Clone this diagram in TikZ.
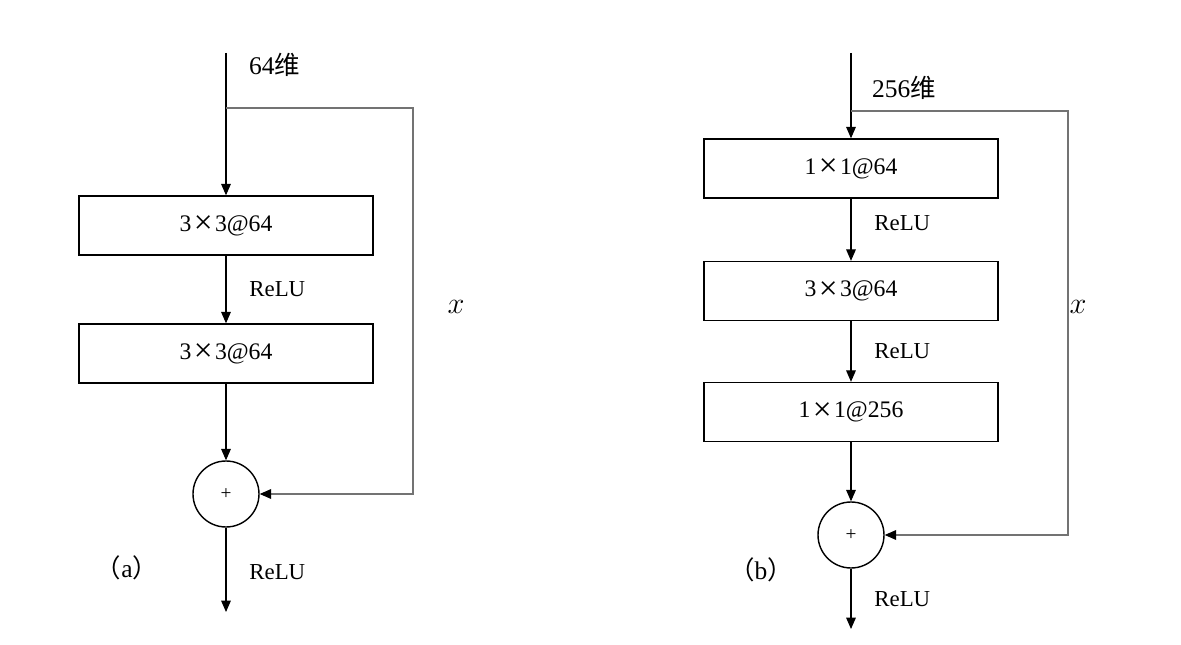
\documentclass[tikz,border=0pt]{standalone}
\usepackage{amsmath}
\usepackage{fontspec}
\setmainfont{Liberation Serif}
\newfontfamily\cjk{Noto Sans CJK SC}
\usetikzlibrary{positioning,arrows.meta}
\colorlet{skipgray}{black!55}
\newcommand{\bigtimes}{\hspace{0.1em}\raisebox{-1.6pt}{\fontsize{19}{19}\selectfont ×}\hspace{0.1em}}

\begin{document}
\begin{tikzpicture}[x=0.02cm, y=-0.02cm,
    block/.style = {draw, line width=0.8pt, minimum width=5.88cm, minimum height=1.18cm, inner sep=0pt, font=\fontsize{13.5}{15}\selectfont},
    sum/.style = {draw, circle, line width=0.8pt, minimum size=1.32cm, inner sep=0pt, font=\fontsize{11}{13}\selectfont},
    flow/.style = {-{Triangle[length=6.5pt, width=5.5pt]}, line width=0.6pt},
    skip/.style = {-{Triangle[length=6.5pt, width=5.5pt, color=black]}, line width=0.7pt, draw=skipgray},
    relu/.style = {anchor=west, xshift=0.34cm, font=\fontsize{13}{15}\selectfont},
    dim/.style = {anchor=west, font=\fontsize{14.5}{16}\selectfont},
    tag/.style = {font=\fontsize{14.5}{16}\selectfont},
    var/.style = {font=\fontsize{17}{17}\selectfont}]
    \useasboundingbox (0,0) rectangle (1181,645);

    % (a) two 3x3 layers
    \coordinate (inA) at (226,53);
    \coordinate (brA) at (226,108);
    \coordinate (skA) at (413,108);
    \coordinate (outA) at (226,612);
    \node[block] (a1) at (226,225.5) {3\bigtimes3@64};
    \node[block] (a2) at (226,353.5) {3\bigtimes3@64};
    \node[sum] (sa) at (226,494) {+};
    \node[dim] (dimA) at (243,65) {64{\cjk 维}};
    \node[var] (xa) at (456,307) {$x$};
    \node[tag] (capA) at (127,568) {{\cjk （}a{\cjk ）}};

    \draw[flow] (inA) -- (a1);
    \draw[flow] (a1) -- node[relu] {ReLU} (a2);
    \draw[flow] (a2) -- (sa);
    \draw[flow] (sa) -- node[relu, yshift=-0.05cm] {ReLU} (outA);
    \draw[skip] (brA) -- (skA) |- (sa);

    % (b) bottleneck
    \coordinate (inB) at (851,53);
    \coordinate (brB) at (851,111);
    \coordinate (skB) at (1068,111);
    \coordinate (outB) at (851,629);
    \node[block] (b1) at (851,168.5) {1\bigtimes1@64};
    \node[block] (b2) at (851,291) {3\bigtimes3@64};
    \node[block] (b3) at (851,412) {1\bigtimes1@256};
    \node[sum] (sb) at (851,535) {+};
    \node[dim] (dimB) at (866,88) {256{\cjk 维}};
    \node[var] (xb) at (1078,307) {$x$};
    \node[tag] (capB) at (761,570) {{\cjk （}b{\cjk ）}};

    \draw[flow] (inB) -- (b1);
    \draw[flow] (b1) -- node[relu, yshift=0.14cm] {ReLU} (b2);
    \draw[flow] (b2) -- node[relu] {ReLU} (b3);
    \draw[flow] (b3) -- (sb);
    \draw[flow] (sb) -- node[relu] {ReLU} (outB);
    \draw[skip] (brB) -- (skB) |- (sb);
\end{tikzpicture}
\end{document}
